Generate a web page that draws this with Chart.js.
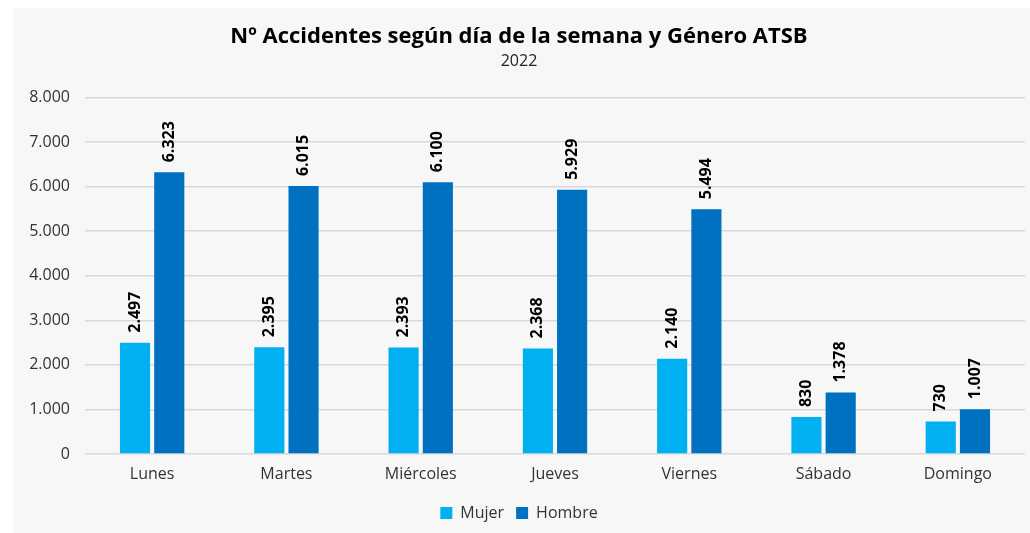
<!DOCTYPE html>
<html>
<head>
<meta charset="utf-8">
<script src="https://cdn.jsdelivr.net/npm/chart.js@4.4.1/dist/chart.umd.min.js"></script>
<style>
  html, body { margin: 0; padding: 0; background: #ffffff; }
  #wrap { position: absolute; left: 13px; top: 8px; width: 1017px; height: 525px; background: #f7f7f7; }
</style>
</head>
<body>
<div id="wrap"><canvas id="chart"></canvas></div>
<script>
const dias = ['Lunes', 'Martes', 'Miércoles', 'Jueves', 'Viernes', 'Sábado', 'Domingo'];
const mujer = [2497, 2395, 2393, 2368, 2140, 830, 730];
const hombre = [6323, 6015, 6100, 5929, 5494, 1378, 1007];
const FONT = '"Open Sans", Lato, sans-serif';

function fmt(v) {
    return v.toString().replace(/\B(?=(\d{3})+(?!\d))/g, '.');
}

// rotated value labels above each bar
const valueLabels = {
    id: 'valueLabels',
    afterDatasetsDraw(chart) {
        const ctx = chart.ctx;
        ctx.save();
        ctx.font = 'bold 16px ' + FONT;
        ctx.fillStyle = '#000000';
        ctx.textAlign = 'left';
        ctx.textBaseline = 'middle';
        chart.data.datasets.forEach((ds, i) => {
            chart.getDatasetMeta(i).data.forEach((bar, j) => {
                ctx.save();
                ctx.translate(bar.x, bar.y - 10);
                ctx.rotate(-Math.PI / 2);
                ctx.fillText(fmt(ds.data[j]), 0, 0);
                ctx.restore();
            });
        });
        ctx.restore();
    }
};

new Chart(document.getElementById('chart'), {
    type: 'bar',
    data: {
        labels: dias,
        datasets: [
            { label: 'Mujer', data: mujer, backgroundColor: '#00b0f0',
              categoryPercentage: 0.51, barPercentage: 0.88 },
            { label: 'Hombre', data: hombre, backgroundColor: '#0070c0',
              categoryPercentage: 0.51, barPercentage: 0.88 }
        ]
    },
    options: {
        responsive: true,
        maintainAspectRatio: false,
        animation: false,
        layout: { padding: { left: 0, right: 5, top: 0, bottom: 2 } },
        scales: {
            x: {
                grid: { display: false },
                border: { display: false },
                ticks: { color: '#333333', font: { family: FONT, size: 16 }, padding: 3 },
                afterFit: s => { s.height = 39; }
            },
            y: {
                min: 0,
                max: 8000,
                ticks: { stepSize: 1000, color: '#333333', font: { family: FONT, size: 16 },
                         padding: 15, callback: v => fmt(v) },
                grid: { color: '#d9d9d9', lineWidth: 1.5, drawTicks: false },
                border: { display: false },
                afterFit: s => { s.width = 72; }
            }
        },
        plugins: {
            title: {
                display: true,
                text: 'Nº Accidentes según día de la semana y Género ATSB',
                color: '#000000',
                font: { family: FONT, size: 22, weight: 'bold' },
                padding: { top: 16, bottom: 1 }
            },
            subtitle: {
                display: true,
                text: '2022',
                color: '#222222',
                font: { family: FONT, size: 16 },
                padding: { bottom: 27 }
            },
            legend: {
                position: 'bottom',
                labels: { color: '#333333', font: { family: FONT, size: 16 }, boxWidth: 12, boxHeight: 12, padding: 12 }
            },
            tooltip: { enabled: false }
        }
    },
    plugins: [valueLabels]
});
</script>
</body>
</html>
